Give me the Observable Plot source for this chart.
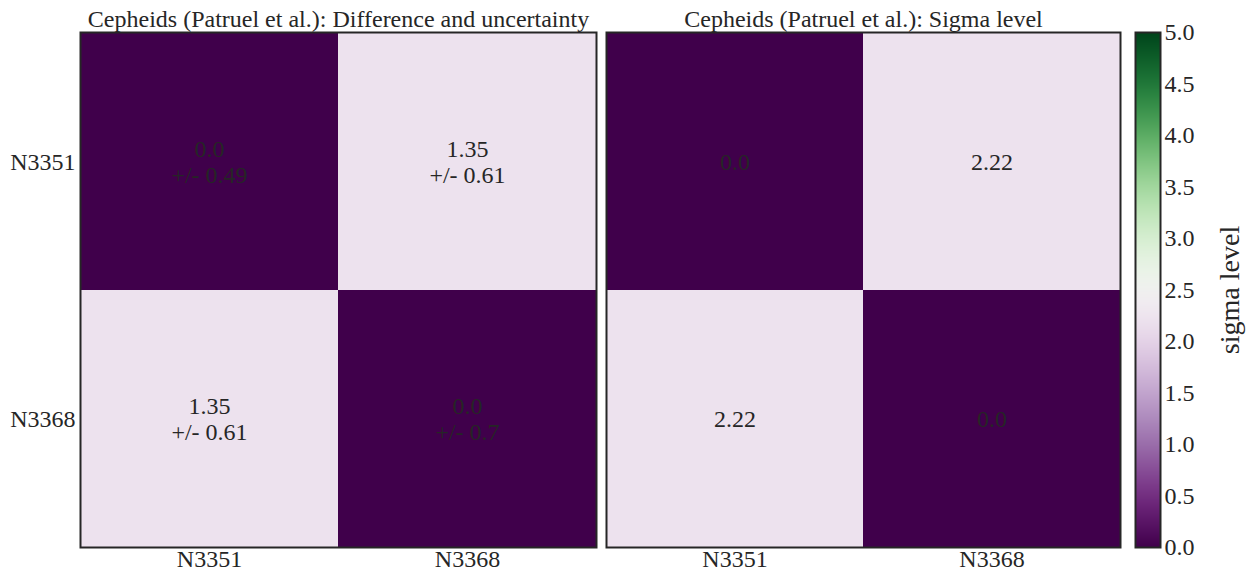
<!DOCTYPE html>
<html><head><meta charset="utf-8">
<script src="https://cdn.jsdelivr.net/npm/d3@7"></script>
<script src="https://cdn.jsdelivr.net/npm/@observablehq/plot@0.6"></script>
<style>
html,body{margin:0;padding:0;background:#fff;}
#wrap{position:relative;width:1253px;height:571px;overflow:hidden;}
#wrap svg{position:absolute;top:0;overflow:visible;}
</style></head>
<body><div id="wrap"></div>
<script>
const galaxies = ["N3351", "N3368"];
const diffValues = [[0.0, 1.35], [1.35, 0.0]];
const uncertValues = [[0.49, 0.61], [0.61, 0.7]];
const sigmaValues = [[0.0, 2.22], [2.22, 0.0]];
const colorTicks = [0, 0.5, 1, 1.5, 2, 2.5, 3, 3.5, 4, 4.5, 5];
const titleLeft = "Cepheids (Patruel et al.): Difference and uncertainty";
const titleRight = "Cepheids (Patruel et al.): Sigma level";
const cbarLabel = "sigma level";

const fmt = v => Number.isInteger(v) ? v.toFixed(1) : String(v);
const cells = [];
galaxies.forEach((row, i) => galaxies.forEach((col, j) => cells.push({
  row, col, diff: diffValues[i][j], unc: uncertValues[i][j], sigma: sigmaValues[i][j]
})));

const INK = "#262626";
const FONT = "Liberation Serif";
const FS = 24;
const color = {type: "linear", scheme: "PRGn", domain: [0, 5]};
const wrap = document.getElementById("wrap");

function panel(left, width, mL, mR, title, labelFn, showY) {
  const svg = Plot.plot({
    width, height: 571,
    marginLeft: mL, marginRight: mR, marginTop: 32, marginBottom: 24,
    style: {fontFamily: FONT, fontSize: FS + "px", color: INK, background: "transparent"},
    x: {domain: galaxies, padding: 0, label: null, tickSize: 0, tickPadding: 2},
    y: {domain: galaxies, padding: 0, label: null, tickSize: 0, tickPadding: 5, axis: showY ? "left" : null},
    color,
    marks: [
      Plot.cell(cells, {x: "col", y: "row", fill: "sigma"}),
      Plot.text(cells, {x: "col", y: "row", text: labelFn, fill: INK, fontSize: FS, lineHeight: 1.05, fontFamily: FONT}),
      Plot.frame({stroke: INK, strokeWidth: 2}),
      Plot.text([title], {frameAnchor: "top", text: d => d, lineAnchor: "bottom", dy: -6, fill: INK, fontSize: FS, fontFamily: FONT})
    ]
  });
  svg.style.left = left + "px";
  wrap.appendChild(svg);
}

panel(0, 598, 80, 2, titleLeft, d => fmt(d.diff) + "\n+/- " + fmt(d.unc), true);
panel(598, 524, 8, 2, titleRight, d => fmt(d.sigma), false);

// colorbar
const cbar = Plot.plot({
  width: 133, height: 571,
  marginLeft: 15, marginRight: 93, marginTop: 32, marginBottom: 24,
  style: {fontFamily: FONT, fontSize: FS + "px", color: INK, background: "transparent"},
  x: {axis: null, domain: [0, 1]},
  y: {domain: [0, 5], axis: null},
  color,
  marks: [
    Plot.raster({fill: (x, y) => y, x1: 0, x2: 1, y1: 0, y2: 5, width: 2, height: 515, imageRendering: "auto"}),
    Plot.axisY({anchor: "right", ticks: colorTicks, tickFormat: d => d.toFixed(1), tickSize: 0, tickPadding: 4, label: null, fontSize: FS, fontFamily: FONT}),
    Plot.text([cbarLabel], {frameAnchor: "right", text: d => d, rotate: -90, textAnchor: "middle", dx: 70, fill: INK, fontSize: 28, fontFamily: FONT}),
    Plot.frame({stroke: INK, strokeWidth: 2})
  ]
});
cbar.style.left = "1120px";
wrap.appendChild(cbar);
</script></body></html>
